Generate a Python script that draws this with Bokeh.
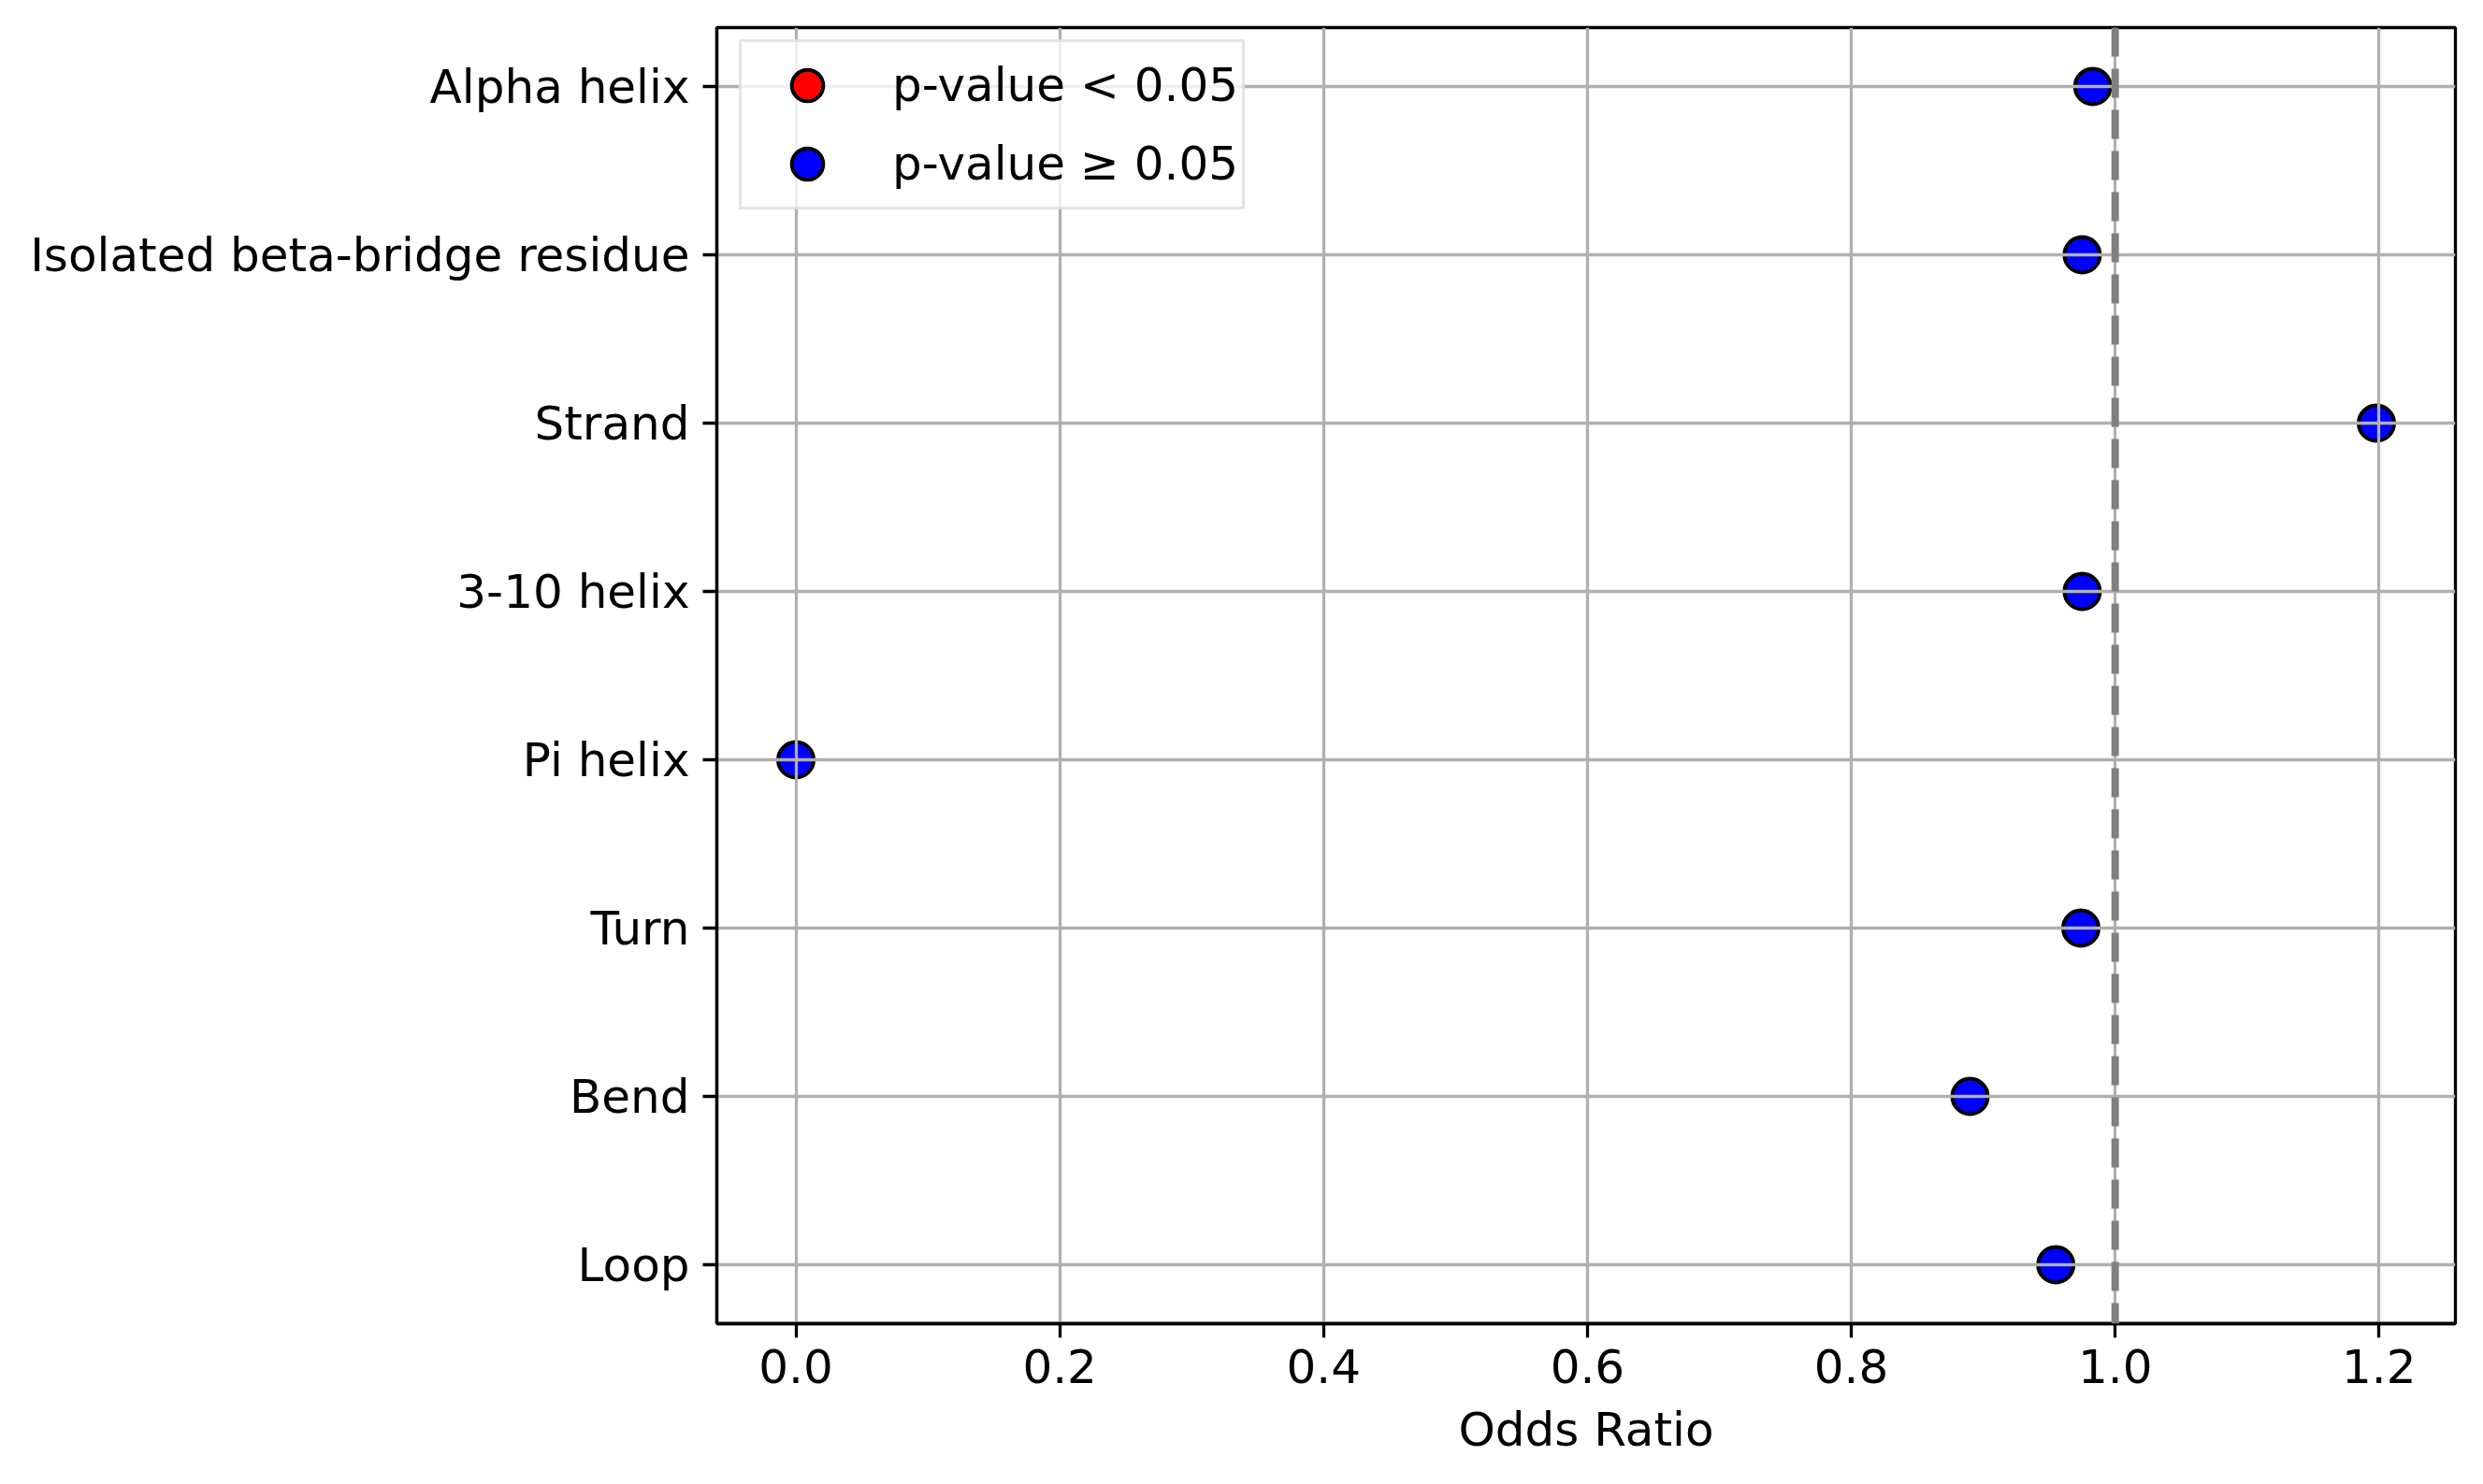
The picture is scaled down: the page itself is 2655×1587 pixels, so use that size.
import math
from bokeh.plotting import figure
from bokeh.models import (ColumnDataSource, Range1d, FixedTicker, Span, Legend,
                          LegendItem, NumeralTickFormatter)
from bokeh.embed import file_html
from bokeh.resources import INLINE

# ---- data ----
categories = ["Alpha helix", "Isolated beta-bridge residue", "Strand", "3-10 helix",
              "Pi helix", "Turn", "Bend", "Loop"]
odds_ratios = [0.983, 0.975, 1.198, 0.975, 0.0, 0.974, 0.890, 0.955]
significant = [False, False, False, False, False, False, False, False]
x_ticks = [0.0, 0.2, 0.4, 0.6, 0.8, 1.0, 1.2]
legend_labels = ["p-value < 0.05", "p-value \u2265 0.05"]
reference_value = 1.0

pos = list(range(len(categories)))
sig_x = [o for o, s in zip(odds_ratios, significant) if s]
sig_y = [i for i, s in zip(pos, significant) if s]
if not sig_x:
    # legend proxy: nothing to draw, but the legend still needs the red entry
    sig_x, sig_y = [math.nan], [math.nan]
sig_src = ColumnDataSource(dict(x=sig_x, y=sig_y))
ns_src = ColumnDataSource(dict(
    x=[o for o, s in zip(odds_ratios, significant) if not s],
    y=[i for i, s in zip(pos, significant) if not s]))

n = len(categories)
pad_y = 0.05 * (n - 1)
xmin, xmax = min(odds_ratios), max(odds_ratios)
pad_x = 0.05 * (xmax - xmin)

FONT = "DejaVu Sans"
LW = 3.3
FRAME_H = 1571 - 29 - 156

p = figure(width=2639, height=1571, output_backend="svg", toolbar_location=None,
           x_range=Range1d(xmin - pad_x, xmax + pad_x),
           y_range=Range1d(n - 1 + pad_y, -pad_y),
           min_border_left=766, min_border_right=14, min_border_top=29,
           min_border_bottom=156)
p.background_fill_color = "white"
p.border_fill_color = "white"
p.outline_line_color = "black"
p.outline_line_width = LW
p.outline_line_alpha = 1.0

r_sig = p.scatter("x", "y", source=sig_src, size=38, fill_color="red",
                  line_color="black", line_width=4, level="underlay")
r_ns = p.scatter("x", "y", source=ns_src, size=38, fill_color="blue",
                 line_color="black", line_width=4, level="underlay")

p.add_layout(Span(location=reference_value, dimension="height", line_color="#808080",
                  line_dash="31 13", line_width=8, level="annotation"))

# axes
p.xaxis.ticker = FixedTicker(ticks=x_ticks)
p.xaxis.formatter = NumeralTickFormatter(format="0.0")
p.yaxis.ticker = FixedTicker(ticks=pos)
p.yaxis.major_label_overrides = {i: c for i, c in zip(pos, categories)}
p.xaxis.axis_label = "Odds Ratio"

for ax in (p.xaxis[0], p.yaxis[0]):
    ax.axis_line_width = LW
    ax.axis_line_color = "black"
    ax.major_tick_line_width = LW
    ax.major_tick_line_color = "black"
    ax.major_tick_out = 15
    ax.major_tick_in = 0
    ax.minor_tick_out = 0
    ax.minor_tick_in = 0
    ax.major_label_text_font = FONT
    ax.major_label_text_font_size = "50px"
    ax.major_label_text_color = "black"
    ax.axis_label_text_font = FONT
    ax.axis_label_text_font_size = "50px"
    ax.axis_label_text_font_style = "normal"
    ax.axis_label_text_color = "black"

p.xaxis.major_label_standoff = 12
p.xaxis.axis_label_standoff = 18
p.yaxis.major_label_standoff = 14

for g in (p.xgrid[0], p.ygrid[0]):
    g.grid_line_color = "#b0b0b0"
    g.grid_line_width = LW
    g.level = "glyph"

GH = 84
PAD = 4
legend_h = 2 * GH + 2 * PAD
legend = Legend(items=[LegendItem(label=legend_labels[0], renderers=[r_sig]),
                       LegendItem(label=legend_labels[1], renderers=[r_ns])],
                location=(24, FRAME_H - 19 - legend_h), padding=PAD,
                glyph_width=132, glyph_height=GH, spacing=0, label_standoff=25,
                label_text_font=FONT, label_text_font_size="50px",
                label_text_color="black",
                border_line_color="#cccccc", border_line_width=LW,
                background_fill_color="white", background_fill_alpha=0.8)
p.add_layout(legend)

open("out.html", "w").write(file_html(p, INLINE))
